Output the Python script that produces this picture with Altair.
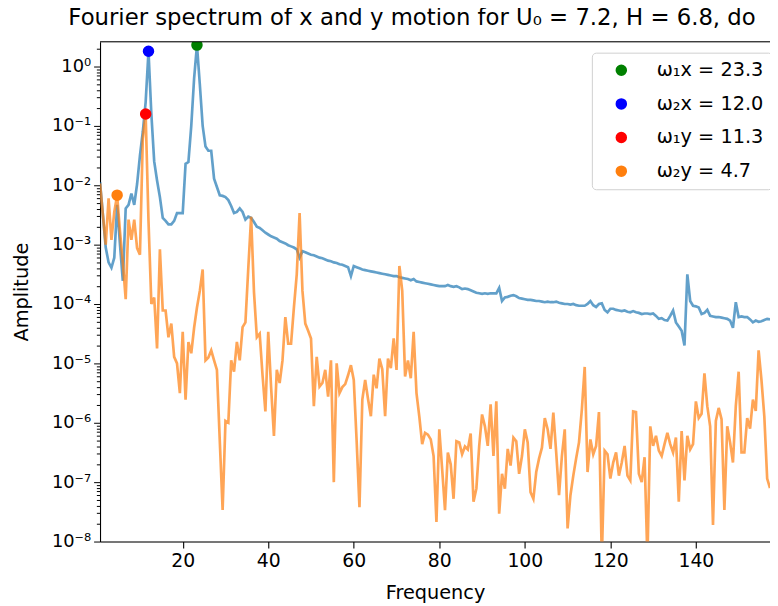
import altair as alt
import pandas as pd

# ---- data (amplitudes stored as log10 values) ----
freq_step = 2 / 3  # FFT frequency resolution

x_log_amp = [
    -1.95, -2.5, -3.05, -3.3, -3.39, -3.22, -2.33, -3.0, -3.61, -2.39,
    -2.33, -2.14, -2.33, -1.98, -1.5, -1.1, -0.6, 0.255, -0.8, -1.6,
    -1.92, -2.2, -2.55, -2.6, -2.66, -2.66, -2.6, -2.47, -2.47, -2.47,
    -1.64, -1.61, -1.0, -0.2, 0.36, -0.3, -1.0, -1.35, -1.42, -1.42,
    -1.89, -2.03, -2.17, -2.18, -2.2, -2.25, -2.35, -2.47, -2.45, -2.39,
    -2.45, -2.58, -2.53, -2.55, -2.62, -2.7, -2.72, -2.76, -2.8, -2.83,
    -2.86, -2.88, -2.9, -2.94, -2.96, -2.98, -3.01, -3.03, -3.05, -3.08,
    -3.22, -3.11, -3.13, -3.15, -3.17, -3.18, -3.2, -3.22, -3.23, -3.25,
    -3.27, -3.28, -3.3, -3.31, -3.33, -3.34, -3.36, -3.38, -3.53, -3.36,
    -3.38, -3.4, -3.42, -3.43, -3.44, -3.45, -3.46, -3.47, -3.48, -3.49,
    -3.5, -3.51, -3.52, -3.53, -3.53, -3.55, -3.56, -3.57, -3.58, -3.6,
    -3.58, -3.62, -3.63, -3.64, -3.65, -3.66, -3.67, -3.68, -3.69, -3.7,
    -3.7, -3.7, -3.68, -3.7, -3.71, -3.7, -3.72, -3.75, -3.74, -3.75,
    -3.77, -3.79, -3.81, -3.82, -3.83, -3.82, -3.83, -3.82, -3.82, -3.82,
    -3.73, -3.95, -3.89, -3.88, -3.86, -3.85, -3.87, -3.9, -3.91, -3.92,
    -3.93, -3.93, -3.94, -3.95, -3.95, -3.96, -3.97, -3.96, -3.97, -3.97,
    -3.96, -3.98, -3.99, -4.0, -4.0, -4.01, -4.0, -4.02, -4.03, -4.03,
    -4.03, -4.0, -3.95, -4.02, -4.05, -4.0, -3.99, -4.1, -4.14, -4.08,
    -4.08, -4.1, -4.11, -4.12, -4.11, -4.13, -4.14, -4.12, -4.14, -4.15,
    -4.17, -4.16, -4.16, -4.17, -4.16, -4.2, -4.25, -4.24, -4.27, -4.28,
    -4.2, -4.11, -4.31, -4.38, -4.45, -4.7, -3.5, -3.95, -4.03, -4.04,
    -4.06, -4.17, -4.15, -4.1, -4.2, -4.21, -4.22, -4.22, -4.23, -4.24,
    -4.25, -4.28, -4.4, -3.97, -4.22, -4.21, -4.22, -4.22, -4.26, -4.31,
    -4.28, -4.3, -4.29, -4.27, -4.25, -4.26,
]

y_log_amp = [
    -1.97, -2.5, -3.0, -2.22, -2.92, -2.45, -2.17, -2.78, -3.3, -3.92,
    -2.58, -2.92, -2.58, -3.06, -3.17, -1.22, -0.8, -2.6, -4.0, -3.89,
    -4.75, -3.08, -4.11, -4.11, -4.56, -4.33, -4.89, -5.0, -5.5, -4.47,
    -5.61, -4.64, -4.83, -4.4, -4.06, -3.78, -3.42, -4.95, -4.9, -4.78,
    -4.95, -5.11, -6.3, -7.47, -5.97, -6.0, -4.95, -5.14, -4.64, -4.95,
    -4.39, -4.31, -3.4, -2.53, -3.8, -4.56, -4.5, -5.2, -5.81, -4.47,
    -5.4, -6.22, -5.11, -5.33, -4.95, -4.22, -4.67, -4.67, -4.06, -3.5,
    -2.47, -3.78, -4.33, -4.45, -4.58, -5.72, -4.89, -5.39, -5.33, -5.11,
    -5.56, -4.95, -7.0, -5.0, -5.5, -5.4, -5.35, -5.2, -5.03, -5.28,
    -6.3, -7.42, -5.61, -5.28, -5.6, -5.89, -5.19, -5.42, -4.92, -5.1,
    -5.89, -4.92, -5.08, -4.58, -5.11, -3.36, -3.78, -5.22, -4.95, -5.25,
    -4.47, -5.5, -5.9, -6.36, -6.17, -6.2, -6.28, -6.56, -7.67, -6.11,
    -6.78, -7.47, -6.5, -6.7, -7.28, -6.31, -6.33, -6.53, -6.4, -6.45,
    -6.18, -7.33, -7.11, -6.39, -5.86, -6.06, -6.39, -5.69, -6.56, -5.64,
    -7.53, -6.86, -7.11, -6.44, -6.72, -6.25, -6.31, -6.86, -6.56, -6.11,
    -6.33, -7.17, -7.28, -6.83, -6.6, -6.42, -5.92, -6.11, -6.44, -5.83,
    -6.5, -7.22, -6.56, -6.11, -7.78, -7.22, -6.89, -6.6, -6.33, -5.78,
    -5.06, -6.83, -6.28, -6.53, -6.39, -5.82, -8.3, -6.47, -6.53, -6.94,
    -6.67, -6.5, -6.89, -6.67, -6.39, -6.89, -6.97, -5.81, -5.82, -6.86,
    -7.0, -6.58, -8.3, -6.06, -6.39, -6.22, -6.47, -6.56, -6.36, -6.17,
    -6.36, -6.5, -6.25, -7.33, -6.14, -6.97, -6.22, -6.45, -6.36, -5.64,
    -5.92, -5.85, -5.17, -5.72, -6.06, -7.72, -5.97, -5.75, -5.94, -7.47,
    -6.06, -6.33, -6.67, -5.72, -5.14, -6.5, -6.5, -5.92, -6.1, -5.61,
    -5.8, -4.78, -5.28, -5.89, -6.94, -7.1,
]

peak_labels = ["ω₁x = 23.3", "ω₂x = 12.0", "ω₁y = 11.3", "ω₂y = 4.7"]
peak_freqs = [23.333, 12.0, 11.333, 4.667]
peak_amps = [2.29, 1.8, 0.158, 0.0068]
peak_colors = ["#008000", "#0000ff", "#ff0000", "#ff7f0e"]

x_tick_values = [20, 40, 60, 80, 100, 120, 140]
y_major_labels = ["10⁰", "10⁻¹", "10⁻²", "10⁻³", "10⁻⁴", "10⁻⁵", "10⁻⁶", "10⁻⁷", "10⁻⁸"]

title_text = "Fourier spectrum of x and y motion for U₀ = 7.2, H = 6.8, do"

# ---- tables ----
freqs = [round((i + 1) * freq_step, 4) for i in range(len(x_log_amp))]
df_x = pd.DataFrame({"freq": freqs, "amp": [10 ** v for v in x_log_amp]})
df_y = pd.DataFrame({"freq": freqs, "amp": [10 ** v for v in y_log_amp]})
df_peaks = pd.DataFrame({"label": peak_labels, "freq": peak_freqs, "amp": peak_amps})

y_tick_values = []
for e in range(-8, 1):
    for m in range(1, 10):
        v = m * 10.0 ** e
        if v <= 2.6:
            y_tick_values.append(v)

FONT = "DejaVu Sans"
W, H = 677, 505

x_scale = alt.Scale(domain=[0.667, 157.33], nice=False, zero=False)
y_scale = alt.Scale(type="log", domain=[1e-8, 2.6], nice=False)

major_test = "abs(log(datum.value)/LN10 - round(log(datum.value)/LN10)) < 0.01"
label_expr = (
    f"{major_test} ? {y_major_labels!r}[round(-log(datum.value)/LN10)] : ''"
)

x_axis = alt.Axis(
    values=x_tick_values, title="Frequency", grid=False,
    labelFont=FONT, labelFontSize=19, labelColor="black",
    titleFont=FONT, titleFontSize=19.5, titleFontWeight="normal", titleColor="black",
    tickColor="black", tickSize=6.5, tickWidth=1.1, labelPadding=4,
    domainColor="black", domainWidth=1.1, titlePadding=13,
)
y_axis = alt.Axis(
    values=y_tick_values, title="Amplitude", grid=False, labelExpr=label_expr,
    labelOverlap=False, labelFont=FONT, labelFontSize=18, labelColor="black",
    titleFont=FONT, titleFontSize=19.5, titleFontWeight="normal", titleColor="black",
    tickColor="black",
    tickSize={"condition": {"test": major_test, "value": 6.5}, "value": 3.7},
    tickWidth=1.0, labelPadding=3,
    domainColor="black", domainWidth=1.1, titlePadding=20,
)

line_x = alt.Chart(df_x).mark_line(
    color="#1f77b4", opacity=0.7, strokeWidth=2.7, clip=True
).encode(
    x=alt.X("freq:Q", scale=x_scale, axis=x_axis),
    y=alt.Y("amp:Q", scale=y_scale, axis=y_axis),
)

line_y = alt.Chart(df_y).mark_line(
    color="#ff7f0e", opacity=0.7, strokeWidth=2.7, clip=True
).encode(
    x=alt.X("freq:Q", scale=x_scale),
    y=alt.Y("amp:Q", scale=y_scale),
)

points = alt.Chart(df_peaks).mark_circle(size=135, opacity=1, clip=True).encode(
    x=alt.X("freq:Q", scale=x_scale),
    y=alt.Y("amp:Q", scale=y_scale),
    color=alt.Color(
        "label:N",
        scale=alt.Scale(domain=peak_labels, range=peak_colors),
        sort=peak_labels,
        legend=alt.Legend(
            title=None, orient="none", legendX=497, legendY=11,
            padding=8, symbolOffset=12, labelOffset=26, rowPadding=13,
            symbolType="circle", symbolSize=135, symbolOpacity=1,
            symbolStrokeWidth=0, labelFont=FONT, labelFontSize=19.5,
            labelColor="black", strokeColor="#d0d0d0", fillColor="white",
            cornerRadius=4, labelLimit=300,
        ),
    ),
)

top_border = alt.Chart(pd.DataFrame({"a": [0]})).mark_rule(
    color="black", strokeWidth=1.1
).encode(x=alt.value(0), x2=alt.value(W), y=alt.value(0))

chart = alt.layer(line_x, line_y, points, top_border).properties(
    width=W,
    height=H,
    autosize=alt.AutoSizeParams(type="none"),
    padding={"left": 93, "top": 31, "right": 0, "bottom": 62},
    title=alt.TitleParams(
        text=title_text, anchor="start", frame="group", dx=-32, offset=10,
        font=FONT, fontSize=23, fontWeight="normal", color="black",
    ),
).configure_view(stroke="transparent").configure(background="white")

chart.save("out.html", embed_options={"renderer": "svg", "actions": False})
